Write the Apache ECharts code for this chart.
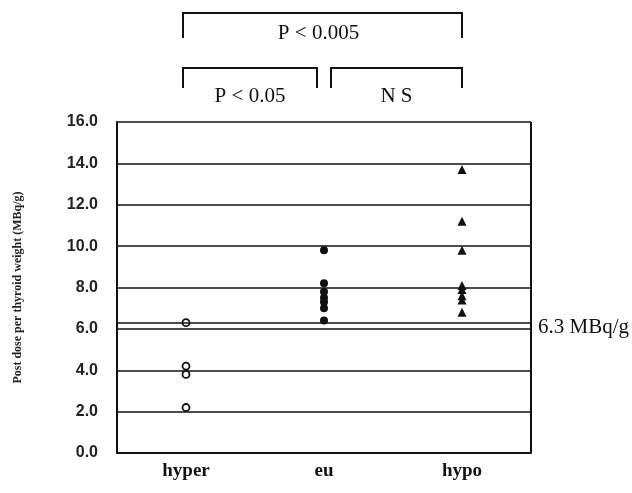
<!DOCTYPE html>
<html>
<head>
<meta charset="utf-8">
<script src="https://cdn.jsdelivr.net/npm/echarts@6/dist/echarts.min.js"></script>
<style>
  html, body { margin: 0; padding: 0; background: #fff; }
  #main { width: 632px; height: 493px; }
</style>
</head>
<body>
<div id="main"></div>
<script>
const categories = ['hyper', 'eu', 'hypo'];
const hyperValues = [6.3, 4.2, 3.8, 2.2];
const euValues = [9.8, 8.2, 7.8, 7.5, 7.3, 7.0, 6.4];
const hypoValues = [13.7, 11.2, 9.8, 8.1, 7.9, 7.6, 7.4, 6.8];
const thresholdValue = 6.3;
const thresholdLabel = '6.3 MBq/g';
const comparisons = [
    { from: 'hyper', to: 'hypo', label: 'P < 0.005', level: 0 },
    { from: 'hyper', to: 'eu', label: 'P < 0.05', level: 1 },
    { from: 'eu', to: 'hypo', label: 'N S', level: 1 }
];

const ink = '#111';
const toPoints = (cat, vals) => vals.map(v => [cat, v]);

const chart = echarts.init(document.getElementById('main'));
chart.setOption({
    backgroundColor: '#fff',
    animation: false,
    grid: { left: 117, right: 101, top: 122, bottom: 40 },
    xAxis: {
        type: 'category',
        data: categories,
        boundaryGap: true,
        axisLine: { lineStyle: { color: ink, width: 2 } },
        axisTick: { show: false },
        axisLabel: {
            margin: 9,
            fontFamily: 'Liberation Serif',
            fontWeight: 'bold',
            fontSize: 19,
            color: ink
        }
    },
    yAxis: {
        type: 'value',
        min: 0, max: 16, interval: 2,
        name: 'Post dose per thyroid weight (MBq/g)',
        nameLocation: 'middle',
        nameGap: 93,
        nameTextStyle: {
            fontFamily: 'Liberation Serif',
            fontSize: 12,
            fontWeight: 'bold',
            color: '#222'
        },
        axisLine: { show: true, lineStyle: { color: ink, width: 2 } },
        axisTick: { show: false },
        axisLabel: {
            margin: 19,
            fontFamily: 'Liberation Sans',
            fontWeight: 'bold',
            fontSize: 16,
            color: '#222',
            formatter: v => v.toFixed(1)
        },
        splitLine: { lineStyle: { color: ink, width: 1.5 } }
    },
    series: [
        {
            name: 'hyper',
            type: 'scatter',
            data: toPoints('hyper', hyperValues),
            symbol: 'circle',
            symbolSize: 7,
            itemStyle: { color: '#fff', borderColor: ink, borderWidth: 1.8, opacity: 1 },
            markLine: {
                silent: true,
                symbol: 'none',
                lineStyle: { color: ink, width: 1.5, type: 'solid' },
                label: {
                    position: 'end',
                    formatter: thresholdLabel,
                    fontFamily: 'Liberation Serif',
                    fontSize: 21,
                    color: ink,
                    distance: 7,
                    offset: [0, 5]
                },
                data: [{ yAxis: thresholdValue }]
            }
        },
        {
            name: 'eu',
            type: 'scatter',
            data: toPoints('eu', euValues),
            symbol: 'circle',
            symbolSize: 8,
            itemStyle: { color: ink, opacity: 1 }
        },
        {
            name: 'hypo',
            type: 'scatter',
            data: toPoints('hypo', hypoValues),
            symbol: 'triangle',
            symbolSize: 9,
            itemStyle: { color: ink, opacity: 1 }
        },
        {
            // right border of the plot box
            type: 'line',
            data: [],
            markLine: {
                silent: true,
                symbol: 'none',
                label: { show: false },
                lineStyle: { color: ink, width: 2, type: 'solid' },
                data: [[{ coord: ['hypo', 0], x: 531 }, { coord: ['hypo', 16], x: 531 }]]
            }
        }
    ]
});

// significance brackets above the plot, placed from category centres
const cx = c => chart.convertToPixel({ xAxisIndex: 0 }, c);
const levelTop = [13, 68];
const levelBottom = [38, 88];
const labelY = [33, 96];
const graphics = [];
comparisons.forEach(c => {
    let x1 = cx(c.from) - 3;
    let x2 = cx(c.to);
    if (c.level === 1 && c.from === 'eu') x1 = cx(c.from) + 7;
    if (c.level === 1 && c.to === 'eu') x2 = cx(c.to) - 7;
    const t = levelTop[c.level], b = levelBottom[c.level];
    graphics.push({
        type: 'polyline',
        shape: { points: [[x1, b], [x1, t], [x2, t], [x2, b]] },
        style: { stroke: ink, lineWidth: 2, fill: null }
    });
    graphics.push({
        type: 'text',
        x: (x1 + x2) / 2 + (c.level === 0 ? -4 : 0),
        y: labelY[c.level],
        style: {
            text: c.label,
            fontFamily: 'Liberation Serif',
            fontSize: 21,
            fill: ink,
            align: 'center',
            verticalAlign: 'middle'
        }
    });
});
chart.setOption({ graphic: graphics });
</script>
</body>
</html>
